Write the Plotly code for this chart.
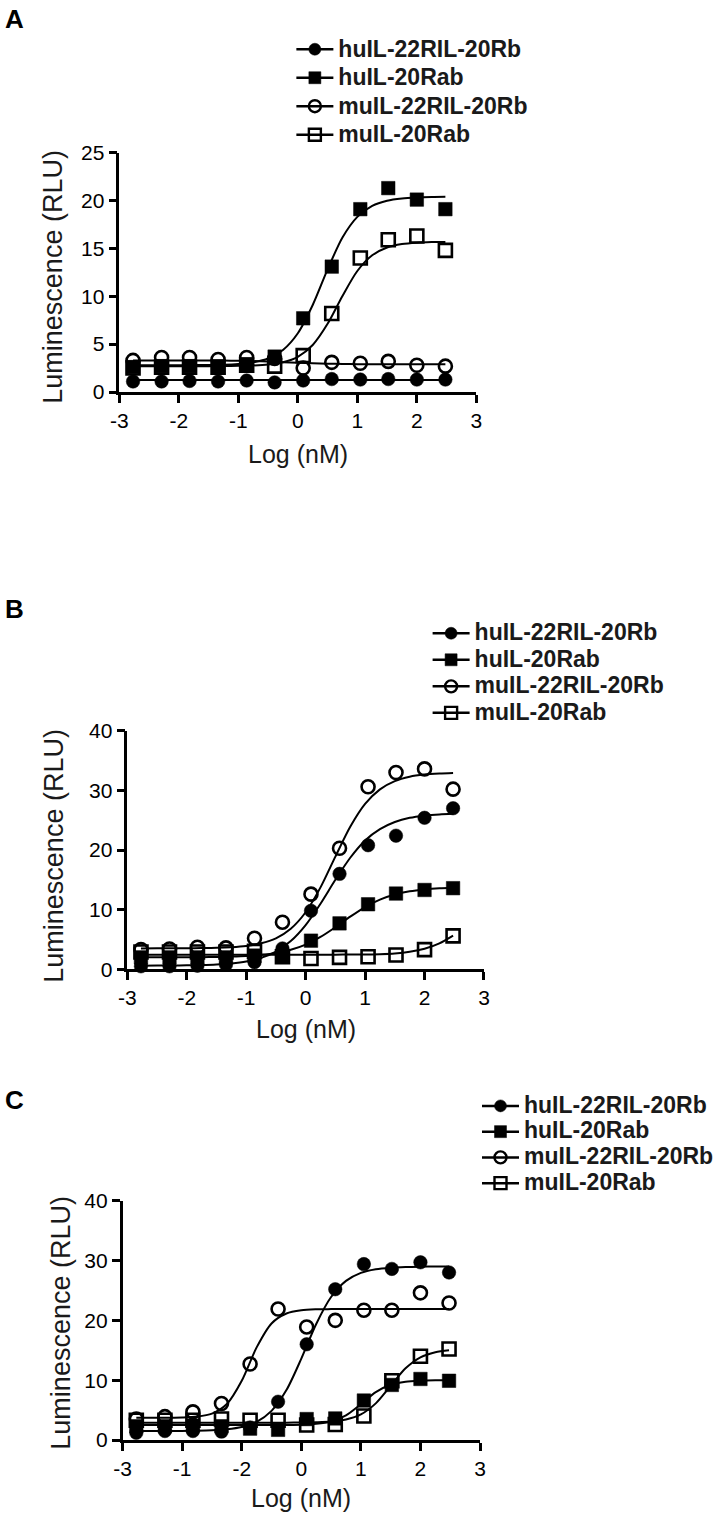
import plotly.graph_objects as go

W, H = 719, 1517

# concentrations on log scale (3-fold dilution from 300 nM)
x_log = [-2.77, -2.29, -1.82, -1.34, -0.86, -0.39, 0.09, 0.57, 1.05, 1.52, 2.0, 2.48]
x_fit = [-2.77, -2.5, -2.25, -2.0, -1.75, -1.5, -1.25, -1.0, -0.75, -0.5, -0.25,
         0.0, 0.25, 0.5, 0.75, 1.0, 1.25, 1.5, 1.75, 2.0, 2.25, 2.48]

series_names = ['huIL-22RIL-20Rb', 'huIL-20Rab', 'muIL-22RIL-20Rb', 'muIL-20Rab']

# Panel A
a_hu22 = [1.1, 1.1, 1.15, 1.1, 1.2, 1.0, 1.2, 1.35, 1.3, 1.35, 1.3, 1.3]
a_hu20 = [2.6, 2.7, 2.7, 2.6, 2.9, 3.7, 7.7, 13.1, 19.1, 21.3, 20.1, 19.1]
a_mu22 = [3.3, 3.6, 3.6, 3.4, 3.6, 3.5, 2.5, 3.1, 3.0, 3.2, 2.8, 2.7]
a_mu20 = [2.5, 2.6, 2.6, 2.6, 2.8, 2.7, 3.8, 8.2, 14.0, 15.9, 16.3, 14.8]
a_hu22_fit = [1.25, 1.25, 1.25, 1.25, 1.25, 1.25, 1.25, 1.25, 1.25, 1.25, 1.25,
              1.25, 1.25, 1.25, 1.25, 1.25, 1.25, 1.25, 1.25, 1.25, 1.25, 1.25]
a_hu20_fit = [2.80, 2.80, 2.80, 2.80, 2.81, 2.82, 2.85, 2.93, 3.10, 3.50, 4.39,
              6.14, 9.09, 12.81, 16.14, 18.30, 19.45, 19.99, 20.22, 20.32, 20.37, 20.39]
a_mu22_fit = [3.30, 3.30, 3.30, 3.30, 3.30, 3.29, 3.28, 3.26, 3.23, 3.18, 3.12,
              3.05, 3.00, 2.96, 2.93, 2.91, 2.90, 2.90, 2.89, 2.89, 2.89, 2.89]
a_mu20_fit = [2.70, 2.70, 2.70, 2.70, 2.70, 2.70, 2.71, 2.73, 2.77, 2.87, 3.11,
              3.68, 4.91, 7.12, 10.03, 12.64, 14.28, 15.09, 15.45, 15.60, 15.66, 15.68]

# Panel B
b_hu22 = [0.5, 0.5, 0.6, 0.8, 1.2, 3.5, 9.8, 16.0, 20.8, 22.4, 25.4, 27.0]
b_hu20 = [2.0, 2.0, 2.0, 2.0, 2.3, 2.1, 4.8, 7.7, 10.9, 12.7, 13.3, 13.6]
b_mu22 = [3.3, 3.4, 3.7, 3.6, 5.2, 7.9, 12.6, 20.3, 30.6, 33.0, 33.6, 30.2]
b_mu20 = [2.9, 2.9, 2.9, 2.9, 3.0, 2.1, 1.8, 2.0, 2.1, 2.4, 3.3, 5.6]
b_hu22_fit = [0.61, 0.62, 0.63, 0.66, 0.71, 0.81, 0.99, 1.32, 1.92, 2.98, 4.74,
              7.42, 11.0, 15.0, 18.7, 21.6, 23.5, 24.7, 25.4, 25.76, 25.97, 26.06]
b_hu20_fit = [2.00, 2.01, 2.01, 2.02, 2.04, 2.07, 2.13, 2.23, 2.42, 2.74, 3.28,
              4.15, 5.42, 7.05, 8.82, 10.44, 11.69, 12.54, 13.08, 13.39, 13.58, 13.67]
b_mu22_fit = [3.50, 3.51, 3.51, 3.52, 3.55, 3.60, 3.71, 3.92, 4.36, 5.20, 6.80,
              9.56, 13.73, 18.89, 23.89, 27.73, 30.17, 31.55, 32.28, 32.64, 32.82, 32.91]
b_mu20_fit = [2.45, 2.45, 2.45, 2.45, 2.45, 2.45, 2.45, 2.45, 2.45, 2.45, 2.45,
              2.45, 2.45, 2.46, 2.47, 2.49, 2.53, 2.65, 2.93, 3.45, 4.35, 5.65]

# Panel C
c_hu22 = [1.2, 1.5, 1.5, 1.4, 2.1, 6.4, 16.0, 25.2, 29.4, 28.6, 29.7, 28.0]
c_hu20 = [2.3, 2.3, 2.4, 2.3, 1.9, 1.7, 3.5, 3.6, 6.6, 9.2, 10.2, 9.9]
c_mu22 = [3.5, 3.9, 4.7, 6.1, 12.7, 21.9, 18.9, 20.0, 21.7, 21.7, 24.6, 22.9]
c_mu20 = [3.3, 3.3, 3.3, 3.5, 3.3, 3.3, 2.5, 2.6, 4.0, 9.9, 14.0, 15.2]
c_hu22_fit = [1.50, 1.50, 1.51, 1.52, 1.55, 1.62, 1.79, 2.17, 3.03, 4.87, 8.34,
              13.6, 19.4, 23.9, 26.6, 27.94, 28.54, 28.80, 28.92, 28.97, 28.99, 29.0]
c_hu20_fit = [2.50, 2.50, 2.50, 2.50, 2.50, 2.50, 2.50, 2.50, 2.50, 2.50, 2.52,
              2.56, 2.70, 3.10, 4.12, 5.99, 8.00, 9.23, 9.74, 9.91, 9.97, 9.99]
c_mu22_fit = [3.70, 3.70, 3.72, 3.76, 3.91, 4.42, 6.02, 9.91, 15.48, 19.48, 21.14,
              21.68, 21.84, 21.88, 21.9, 21.9, 21.9, 21.9, 21.9, 21.9, 21.9, 21.9]
c_mu20_fit = [2.90, 2.90, 2.90, 2.90, 2.90, 2.90, 2.90, 2.90, 2.90, 2.90, 2.90,
              2.92, 2.97, 3.09, 3.43, 4.28, 6.12, 9.05, 11.98, 13.82, 14.67, 14.99]

x_ticks = [-3, -2, -1, 0, 1, 2, 3]
x_ticktext_ab = ['-3', '-2', '-1', '0', '1', '2', '3']
x_ticktext_c = ['-3', '-1', '-2', '0', '1', '2', '3']

symbols = ['circle', 'square', 'circle-open', 'square-open']

FONT = 'Liberation Sans, Arial, sans-serif'


def px_x(p):
    return p / W


def px_y(p):
    return 1 - p / H


panels = [
    dict(name='A', data=[a_hu22, a_hu20, a_mu22, a_mu20],
         fits=[a_hu22_fit, a_hu20_fit, a_mu22_fit, a_mu20_fit],
         xdom=(120, 479), ydom=(392, 152.7), yrange=25, ydtick=5, ticktext=x_ticktext_ab,
         label_y=19, leg_x=293, leg_y=48, leg_size=19.6, ytitle_x=53, ytitle_y=277, xtitle_y=454),
    dict(name='B', data=[b_hu22, b_hu20, b_mu22, b_mu20],
         fits=[b_hu22_fit, b_hu20_fit, b_mu22_fit, b_mu20_fit],
         xdom=(128, 486.7), ydom=(969.3, 730.7), yrange=40, ydtick=10, ticktext=x_ticktext_ab,
         label_y=609, leg_x=430, leg_y=633, leg_size=18.1, ytitle_x=54, ytitle_y=856, xtitle_y=1029),
    dict(name='C', data=[c_hu22, c_hu20, c_mu22, c_mu20],
         fits=[c_hu22_fit, c_hu20_fit, c_mu22_fit, c_mu20_fit],
         xdom=(123.3, 482.7), ydom=(1440, 1200.7), yrange=40, ydtick=10, ticktext=x_ticktext_c,
         label_y=1100, leg_x=480, leg_y=1106, leg_size=17.5, ytitle_x=61, ytitle_y=1323, xtitle_y=1498),
]

fig = go.Figure()
layout = dict(width=W, height=H, margin=dict(l=0, r=0, t=0, b=0),
              paper_bgcolor='white', plot_bgcolor='white', annotations=[])

for i, p in enumerate(panels):
    n = '' if i == 0 else str(i + 1)
    xa, ya = 'x' + n, 'y' + n
    leg = 'legend' + n

    for fit in p['fits']:
        fig.add_trace(go.Scatter(x=x_fit, y=fit, mode='lines', xaxis=xa, yaxis=ya,
                                 line=dict(color='black', width=2, shape='spline', smoothing=0.8),
                                 cliponaxis=False, showlegend=False, hoverinfo='skip'))
    for vals, sym in zip(p['data'], symbols):
        open_sym = sym.endswith('open')
        fig.add_trace(go.Scatter(x=x_log, y=vals, mode='markers', xaxis=xa, yaxis=ya,
                                 marker=dict(symbol=sym, size=13 if open_sym else 13.5, color='black',
                                             line=dict(color='black', width=2.6 if open_sym else 0.5)),
                                 cliponaxis=False, showlegend=False))
    for name, sym in zip(series_names, symbols):
        open_sym = sym.endswith('open')
        # bigger glyphs than the row height so entries sit close together
        fig.add_trace(go.Scatter(x=[None], y=[None], mode='lines+markers',
                                 name='<span style="font-size:23px">' + name + '</span>',
                                 xaxis=xa, yaxis=ya, legend=leg,
                                 line=dict(color='black', width=2.5),
                                 marker=dict(symbol=sym, size=12, color='black',
                                             line=dict(color='black', width=2.4 if open_sym else 0.5))))

    axis_common = dict(showline=True, linecolor='black', linewidth=2.5, ticks='outside',
                       ticklen=8, tickwidth=2.5, tickcolor='black', showgrid=False,
                       zeroline=False, automargin=False,
                       tickfont=dict(family=FONT, size=21, color='black'))
    layout['xaxis' + n] = dict(axis_common, domain=[px_x(p['xdom'][0]), px_x(p['xdom'][1])],
                               anchor=ya, range=[-3, 3], tickvals=x_ticks,
                               ticktext=p['ticktext'])
    layout['yaxis' + n] = dict(axis_common, domain=[px_y(p['ydom'][0]), px_y(p['ydom'][1])],
                               anchor=xa, range=[0, p['yrange']], tick0=0, dtick=p['ydtick'])

    layout[leg] = dict(x=px_x(p['leg_x']), y=px_y(p['leg_y'] - 18), xanchor='left', yanchor='top',
                       bgcolor='rgba(0,0,0,0)', borderwidth=0, itemwidth=37,
                       font=dict(family=FONT, size=p['leg_size'], color='#1a1a1a', weight='bold'))

    xmid = (p['xdom'][0] + p['xdom'][1]) / 2
    layout['annotations'] += [
        dict(text='<b>' + p['name'] + '</b>', x=px_x(15), y=px_y(p['label_y']), xref='paper',
             yref='paper', xanchor='center', yanchor='middle', showarrow=False,
             font=dict(family=FONT, size=26, color='black')),
        dict(text='Luminescence (RLU)', x=px_x(p['ytitle_x']), y=px_y(p['ytitle_y']), xref='paper',
             yref='paper', xanchor='center', yanchor='middle', showarrow=False, textangle=-90,
             font=dict(family=FONT, size=27, color='#1a1a1a')),
        dict(text='Log (nM)', x=px_x(xmid), y=px_y(p['xtitle_y']), xref='paper', yref='paper',
             xanchor='center', yanchor='middle', showarrow=False,
             font=dict(family=FONT, size=25, color='#1a1a1a')),
    ]

fig.update_layout(layout)
fig.write_html("out.html", config={'displayModeBar': False},
               post_script="document.body.style.margin='0px';document.body.style.overflow='hidden';")
